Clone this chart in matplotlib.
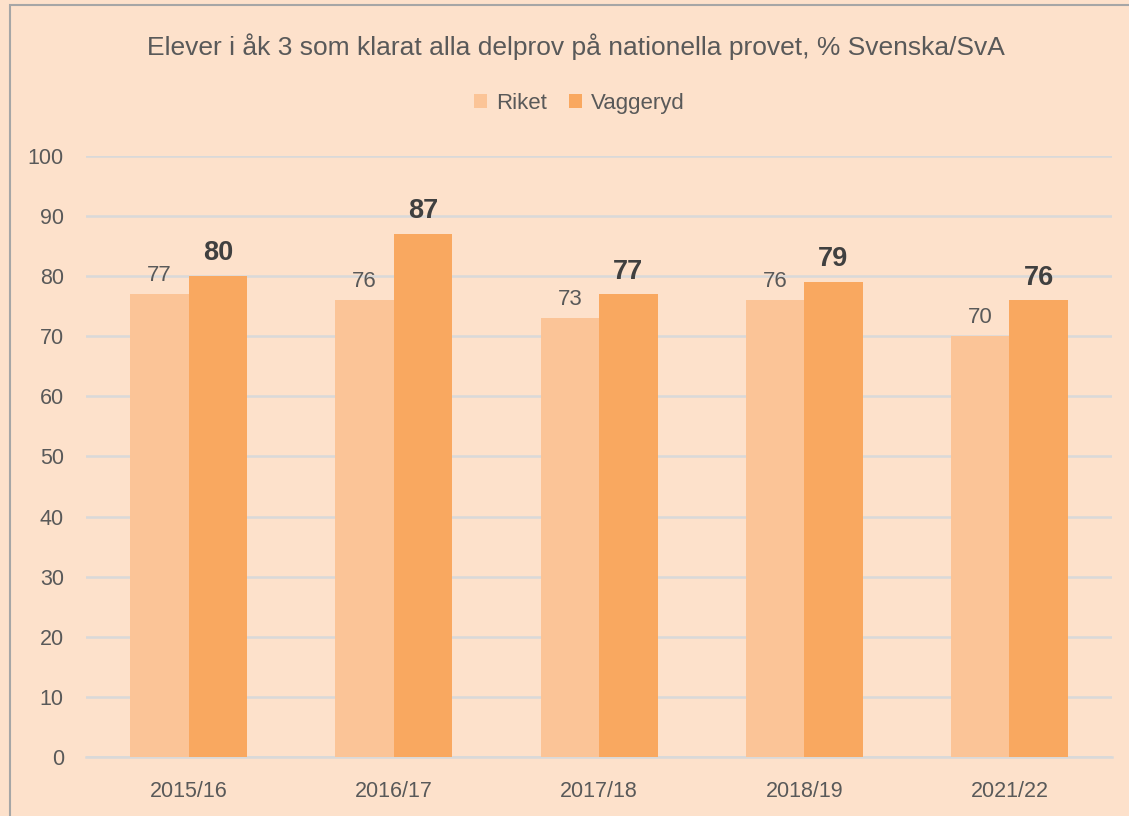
import matplotlib
matplotlib.use("Agg")
import matplotlib.pyplot as plt
import numpy as np
from matplotlib.patches import Rectangle

categories = ["2015/16", "2016/17", "2017/18", "2018/19", "2021/22"]
riket = [77, 76, 73, 76, 70]
vaggeryd = [80, 87, 77, 79, 76]

bg = "#FDE1CB"
c_riket = "#FBC497"
c_vagg = "#F9A860"
txt = "#595959"

plt.rcParams['font.family'] = ['Liberation Sans', 'DejaVu Sans']

fig = plt.figure(figsize=(11.29, 8.16), dpi=100)
fig.patch.set_facecolor(bg)
ax = fig.add_axes([0.0762, 0.0723, 0.9088, 0.7367])
ax.set_facecolor(bg)

x = np.arange(len(categories))
w = 0.285
b1 = ax.bar(x - w/2, riket, w, color=c_riket, label="Riket", zorder=3)
b2 = ax.bar(x + w/2, vaggeryd, w, color=c_vagg, label="Vaggeryd", zorder=3)

for xi, v in zip(x, riket):
    ax.text(xi - w/2, v + 1.4, str(v), ha="center", va="bottom", fontsize=16, color=txt)
for xi, v in zip(x, vaggeryd):
    ax.text(xi + w/2, v + 1.6, str(v), ha="center", va="bottom", fontsize=19.5, color="#404040", fontweight="bold")

ax.set_xlim(-0.5, len(categories) - 0.5)
ax.set_ylim(0, 100)
ax.set_yticks(range(0, 101, 10))
ax.set_xticks(x)
ax.set_xticklabels(categories)
ax.tick_params(axis="both", length=0, labelsize=15.5, colors=txt)
ax.tick_params(axis="y", pad=16)
ax.tick_params(axis="x", pad=17)
ax.grid(axis="y", color="#D9D9D9", linewidth=1.8, zorder=0)
for s in ["top", "right", "left"]:
    ax.spines[s].set_visible(False)
ax.spines["bottom"].set_color("#D9D9D9")
ax.spines["bottom"].set_linewidth(1.8)

fig.text(0.51, 0.943, "Elever i åk 3 som klarat alla delprov på nationella provet, % Svenska/SvA",
         ha="center", va="center", fontsize=19, color=txt)
leg = fig.legend(handles=[b1, b2], labels=["Riket", "Vaggeryd"], loc="center",
                 bbox_to_anchor=(0.513, 0.873), ncol=2, frameon=False, fontsize=16,
                 handlelength=0.6, handleheight=0.6, handletextpad=0.4, columnspacing=1.0)
for t in leg.get_texts():
    t.set_color(txt)

fig.patches.append(Rectangle((10/1129, -0.1), 1.2, 1 - 5/816 + 0.1, transform=fig.transFigure,
                             fill=False, edgecolor="#A6A6A6", linewidth=1.5))

fig.savefig("out.png", dpi=100, facecolor=bg)
